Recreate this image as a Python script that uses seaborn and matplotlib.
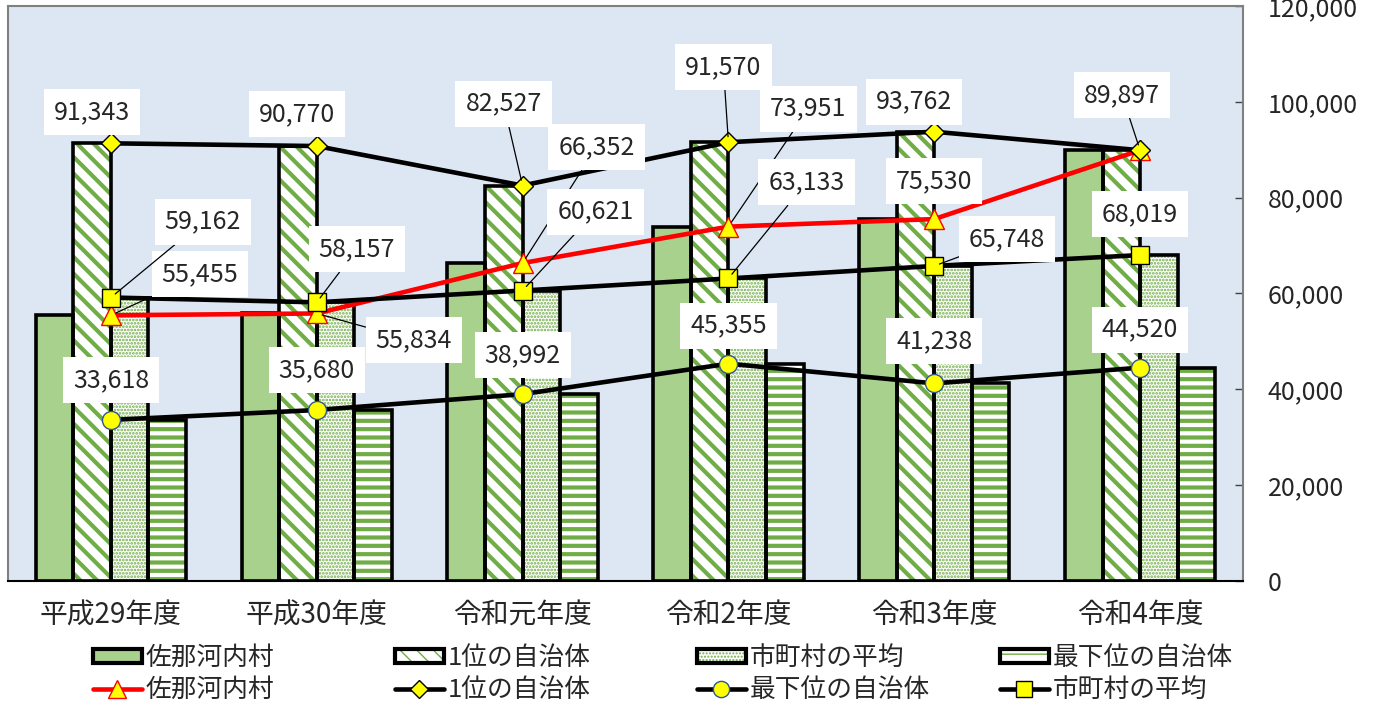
import matplotlib
matplotlib.use('Agg')
import pandas as pd
import matplotlib.pyplot as plt
import seaborn as sns
from matplotlib.patches import Rectangle, Patch
from matplotlib.lines import Line2D

# データ
years = ['平成29年度', '平成30年度', '令和元年度', '令和2年度', '令和3年度', '令和4年度']
series_names = ['佐那河内村', '1位の自治体', '市町村の平均', '最下位の自治体']
sanagochi = [55455, 55834, 66352, 73951, 75530, 89897]
top_city = [91343, 90770, 82527, 91570, 93762, 89897]
average = [59162, 58157, 60621, 63133, 65748, 68019]
bottom_city = [33618, 35680, 38992, 45355, 41238, 44520]
y_ticks = [0, 20000, 40000, 60000, 80000, 100000, 120000]

# ラベル位置 (ピクセルのずれ)
off_sana = [(89, 41), (97, -27), (74, 116), (80, 118), (0, 38), None]
off_top = [(-19, 31), (-20, 32), (-19, 82), (-5, 75), (-20, 30), (-18, 55)]
off_avg = [(92, 76), (40, 53), (73, 79), (78, 96), (73, 27), (0, 41)]
off_bot = [(0, 40), (0, 40), (0, 39), (0, 38), (0, 42), (0, 38)]

sns.set_style('white')
plt.rcParams['font.family'] = ['Noto Sans CJK JP', 'DejaVu Sans']

BAR_GREEN = '#A9D18E'
HATCH_GREEN = '#70AD47'

fig = plt.figure(figsize=(13.81, 7.09), dpi=100)
ax = fig.add_axes([8 / 1381, 128 / 709, 1235 / 1381, 575 / 709])
ax.set_facecolor('#DDE7F3')

df = pd.DataFrame({
    'year': years * 4,
    'series': [s for s in series_names for _ in years],
    'value': sanagochi + top_city + average + bottom_city,
})

sns.barplot(data=df, x='year', y='value', hue='series', order=years,
            hue_order=series_names, width=0.73, gap=0, saturation=1,
            palette=[BAR_GREEN] * 4, legend=False, ax=ax, zorder=2)

bar_styles = [
    dict(fc=BAR_GREEN, hatch=None, hlw=1.0),
    dict(fc='white', hatch='\\\\', hlw=3.0),
    dict(fc='white', hatch='.....', hlw=1.3),
    dict(fc='white', hatch='--', hlw=3.0),
]


def style_patch(p, st):
    p.set_facecolor(st['fc'])
    p.set_edgecolor(HATCH_GREEN)
    p.set_linewidth(0)
    if st['hatch']:
        p.set_hatch(st['hatch'])
        if hasattr(p, 'set_hatch_linewidth'):
            p.set_hatch_linewidth(st['hlw'])


for cont, st in zip(ax.containers, bar_styles):
    for p in cont:
        style_patch(p, st)
        # 黒い枠
        ax.add_patch(Rectangle(p.get_xy(), p.get_width(), p.get_height(),
                               fill=False, ec='black', lw=2.6, zorder=2.5))

# 折れ線
xpos = list(range(len(years)))
line_specs = [
    (sanagochi, 'red', '^', 14, 'red', off_sana),
    (top_city, 'black', 'D', 10.5, 'black', off_top),
    (bottom_city, 'black', 'o', 13, '#2F5597', off_bot),
    (average, 'black', 's', 13, 'black', off_avg),
]
for vals, col, mk, ms, mec, offs in line_specs:
    sns.lineplot(x=xpos, y=vals, ax=ax, color=col, lw=3.3, marker=mk,
                 markersize=ms, markerfacecolor='yellow', markeredgecolor=mec,
                 markeredgewidth=1.0, zorder=3)
    for i, (v, off) in enumerate(zip(vals, offs)):
        if off is None:
            continue
        dx, dy = off
        leader = abs(dx) > 30 or dy > 50
        ax.annotate(f'{v:,}', xy=(i, v), xytext=(dx, dy),
                    textcoords='offset pixels', ha='center', va='center',
                    fontsize=18, zorder=6,
                    bbox=dict(boxstyle='square,pad=0.4', fc='white', ec='none'),
                    arrowprops=dict(arrowstyle='-', color='black', lw=0.9,
                                    shrinkA=0, shrinkB=4) if leader else None)

# 軸
ax.set_xlim(-0.5, len(years) - 0.5)
ax.set_ylim(0, 120000)
ax.set_xlabel('')
ax.set_ylabel('')
ax.set_xticks(xpos)
ax.set_xticklabels(years, fontsize=20)
ax.set_xticks([i + 0.5 for i in range(len(years) - 1)], minor=True)
ax.tick_params(axis='x', which='major', length=0, pad=14)
ax.tick_params(axis='x', which='minor', direction='in', length=6, width=1, color='black')
ax.yaxis.tick_right()
ax.set_yticks(y_ticks)
ax.set_yticklabels([f'{v:,}' for v in y_ticks], fontsize=18)
ax.tick_params(axis='y', direction='in', length=6, width=1, pad=18, color='#404040')
for side in ['left', 'top', 'right']:
    ax.spines[side].set_color('#808080')
    ax.spines[side].set_linewidth(1.5)
ax.spines['bottom'].set_color('black')
ax.spines['bottom'].set_linewidth(1.5)

# 凡例
bar_handles = []
for st in bar_styles:
    inner = Patch()
    style_patch(inner, st)
    outer = Patch(fill=False, edgecolor='black', lw=3.0)
    bar_handles.append((inner, outer))
line_order = ['佐那河内村', '1位の自治体', '最下位の自治体', '市町村の平均']
line_handles = {}
for (vals, col, mk, ms, mec, offs), name in zip(line_specs, line_order):
    line_handles[name] = Line2D([], [], color=col, lw=3.3, marker=mk, markersize=ms * 0.9,
                                markerfacecolor='yellow', markeredgecolor=mec)

col_x = [93, 395, 697, 1000]
for j in range(4):
    fig.legend(handles=[bar_handles[j], line_handles[line_order[j]]],
               labels=[series_names[j], line_order[j]],
               loc='upper left', bbox_to_anchor=(col_x[j] / 1381, 64 / 709),
               frameon=False, fontsize=18.5, handlelength=1.9,
               handleheight=0.45, handletextpad=0.15, labelspacing=0.25,
               borderpad=0, borderaxespad=0)

fig.savefig('out.png', dpi=100, facecolor='white')
